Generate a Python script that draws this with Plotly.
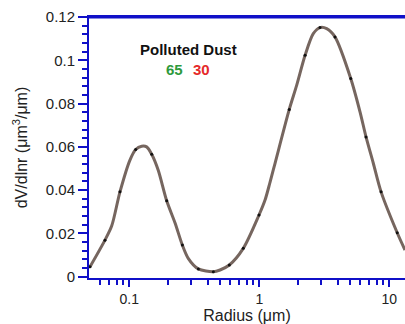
import plotly.graph_objects as go
import math

# Size distribution
radius = [0.0499, 0.065, 0.0733, 0.0848, 0.1012, 0.112, 0.1245, 0.136, 0.1487, 0.167,
          0.194, 0.225, 0.256, 0.284, 0.34, 0.443, 0.499, 0.588, 0.753, 0.995,
          1.107, 1.21, 1.32, 1.70, 1.94, 2.25, 2.60, 2.93, 3.30, 3.82,
          5.05, 5.95, 6.62, 7.54, 8.64, 11.5, 13.2]
dvdlnr = [0.0046, 0.0169, 0.0235, 0.0392, 0.0539, 0.0588, 0.0603, 0.0600, 0.0566, 0.0492,
          0.0351, 0.0248, 0.0146, 0.0085, 0.0036, 0.0023, 0.0031, 0.0054, 0.0131, 0.0285,
          0.0354, 0.0437, 0.0523, 0.0773, 0.0885, 0.1023, 0.1123, 0.1151, 0.1146, 0.1108,
          0.0916, 0.0762, 0.0646, 0.0523, 0.0392, 0.0203, 0.0123]
dot_idx = [0, 1, 3, 5, 8, 10, 12, 14, 15, 17, 18, 19, 23, 25, 27, 29, 30, 32, 34, 35]

x_ticks = [0.1, 1, 10]
x_ticktext = ["0.1", "1", "10"]
x_minor = [0.06, 0.07, 0.08, 0.09, 0.2, 0.3, 0.4, 0.5, 0.6, 0.7, 0.8, 0.9,
           2, 3, 4, 5, 6, 7, 8, 9]
y_ticks = [0, 0.02, 0.04, 0.06, 0.08, 0.1, 0.12]
y_ticktext = ["0", "0.02", "0.04", "0.06", "0.08", "0.1", "0.12"]

title_text = "Polluted Dust"
num_a, num_b = "65", "30"

AXC = "#1010c8"
LINEC = "#76665f"
FONT = "Liberation Sans, Arial, sans-serif"

fig = go.Figure()
fig.add_trace(go.Scatter(x=radius, y=dvdlnr, mode="lines",
                         line=dict(color=LINEC, width=3, shape="spline", smoothing=0.8),
                         hoverinfo="skip", showlegend=False))
fig.add_trace(go.Scatter(x=[radius[i] for i in dot_idx], y=[dvdlnr[i] for i in dot_idx],
                         mode="markers", marker=dict(color="#111", size=3),
                         showlegend=False))

def px(xp, yp):
    return dict(xref="paper", yref="paper", x=(xp - 89) / 316, y=(278 - yp) / 261,
                xanchor="center", yanchor="middle", showarrow=False)

fig.update_layout(
    width=405, height=324,
    margin=dict(l=89, r=0, t=17, b=46),
    plot_bgcolor="white", paper_bgcolor="white",
    font=dict(family=FONT, size=15, color="#222"),
    xaxis=dict(type="log", range=[math.log10(0.049), math.log10(13.2)],
               tickvals=x_ticks, ticktext=x_ticktext, tickfont=dict(size=14),
               ticks="outside", ticklen=7, tickwidth=2, tickcolor=AXC,
               minor=dict(tickvals=x_minor, ticks="outside", ticklen=5, tickwidth=2, tickcolor=AXC),
               showline=True, linecolor=AXC, linewidth=2, mirror=True,
               showgrid=False, zeroline=False,
               title=dict(text="Radius (μm)", font=dict(size=16), standoff=1)),
    yaxis=dict(range=[-0.0006, 0.12],
               tickvals=y_ticks, ticktext=y_ticktext,
               ticks="outside", ticklen=9, tickwidth=2, tickcolor=AXC,
               minor=dict(dtick=0.004, tick0=0, ticks="outside", ticklen=5, tickwidth=2, tickcolor=AXC),
               showline=True, linecolor=AXC, linewidth=2,
               showgrid=False, zeroline=False,
               title=dict(text="dV/dlnr (μm<sup>3</sup>/μm)", font=dict(size=16), standoff=14)),
    annotations=[
        dict(text="<b>%s</b>" % title_text, font=dict(size=15, color="#111"), **px(188.5, 49)),
        dict(text="<b>%s</b>" % num_a, font=dict(size=15, color="#2e9a3c"), **px(174, 69)),
        dict(text="<b>%s</b>" % num_b, font=dict(size=15, color="#e52a2a"), **px(201, 69)),
    ],
)
fig.add_shape(type="line", xref="paper", yref="paper", x0=0, x1=1, y0=1, y1=1,
              line=dict(color=AXC, width=3))

fig.write_html("out.html")
